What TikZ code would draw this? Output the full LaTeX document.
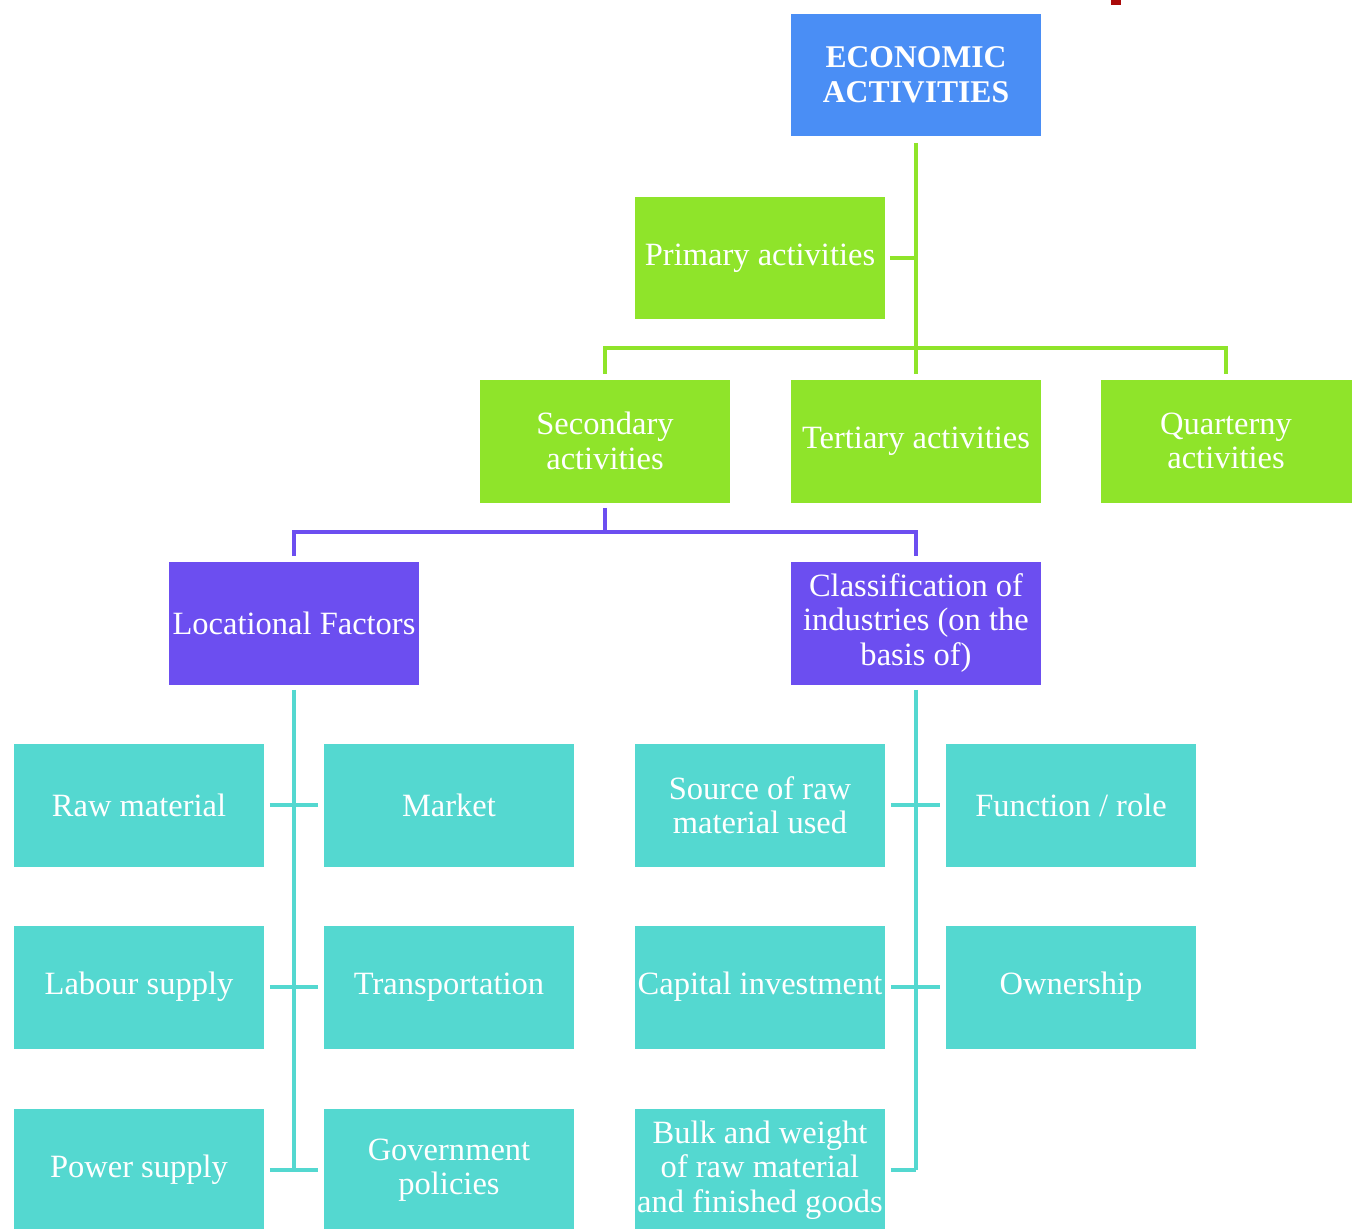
\documentclass[tikz,border=0pt]{standalone}
\usepackage{fontspec}
\setmainfont{Liberation Serif}
\definecolor{topblue}{RGB}{74,142,245}
\definecolor{actgreen}{RGB}{143,228,42}
\definecolor{factpurple}{RGB}{108,78,240}
\definecolor{itemteal}{RGB}{84,216,208}
\definecolor{markred}{RGB}{170,10,10}

\begin{document}
\begin{tikzpicture}[x=0.02cm,y=-0.02cm,
  box/.style={minimum width=5.02cm,minimum height=2.46cm,inner sep=0pt,
    align=center,text=white,font=\fontsize{18.5}{19.6}\selectfont},
  topbox/.style={box,fill=topblue,font=\fontsize{18}{19.8}\selectfont\bfseries},
  actbox/.style={box,fill=actgreen},
  factbox/.style={box,fill=factpurple},
  itembox/.style={box,fill=itemteal},
  gline/.style={actgreen,line width=2.6pt},
  pline/.style={factpurple,line width=2.6pt},
  tline/.style={itemteal,line width=2.6pt}]
  \useasboundingbox (0,0) rectangle (1354,1228);
  \fill[markred] (1111,0) rectangle (1121,5);

  % top and activities
  \node[topbox] (eco) at (916,75) {ECONOMIC\\ACTIVITIES};
  \node[actbox] (prim) at (760,258) {Primary activities};
  \node[actbox] (sec) at (605,441) {Secondary\\activities};
  \node[actbox] (tert) at (916,441) {Tertiary activities};
  \node[actbox] (quart) at (1226,441) {Quarterny\\activities};

  % secondary split
  \node[factbox] (loc) at (294,623) {Locational Factors};
  \node[factbox] (cls) at (916,623) {Classification of\\industries (on the\\basis of)};

  % locational factors
  \node[itembox] (raw) at (139,805) {Raw material};
  \node[itembox] (market) at (449,805) {Market};
  \node[itembox] (labour) at (139,987) {Labour supply};
  \node[itembox] (transport) at (449,987) {Transportation};
  \node[itembox] (power) at (139,1170) {Power supply};
  \node[itembox] (govt) at (449,1170) {Government\\policies};

  % classification
  \node[itembox] (source) at (760,805) {Source of raw\\material used};
  \node[itembox] (func) at (1071,805) {Function / role};
  \node[itembox] (capital) at (760,987) {Capital investment};
  \node[itembox] (owner) at (1071,987) {Ownership};
  \node[itembox] (bulk) at (760,1170) {Bulk and weight\\of raw material\\and finished goods};

  % connectors
  \coordinate (ghub) at (916,348);
  \coordinate (phub) at (605,532);
  \draw[gline] ([yshift=-0.12cm]eco.south) -- ([yshift=0.1cm]tert.north);
  \draw[gline] ([xshift=0.08cm]prim.east) -- (prim.east -| eco.south);
  \draw[gline] ([yshift=0.1cm]sec.north) |- (ghub) -| ([yshift=0.1cm]quart.north);
  \draw[pline] ([yshift=-0.1cm]sec.south) -- (phub);
  \draw[pline] ([yshift=0.1cm]loc.north) |- (phub) -| ([yshift=0.1cm]cls.north);
  \draw[tline] ([yshift=-0.1cm]loc.south) -- (loc.south |- power.east);
  \draw[tline] ([yshift=-0.1cm]cls.south) -- (cls.south |- bulk.east);
  \foreach \lft/\rgt in {raw/market,labour/transport,power/govt,source/func,capital/owner}{
    \draw[tline] ([xshift=0.1cm]\lft.east) -- ([xshift=-0.1cm]\rgt.west);
  }
  \draw[tline] ([xshift=0.1cm]bulk.east) -- (bulk.east -| cls.south);
\end{tikzpicture}
\end{document}
